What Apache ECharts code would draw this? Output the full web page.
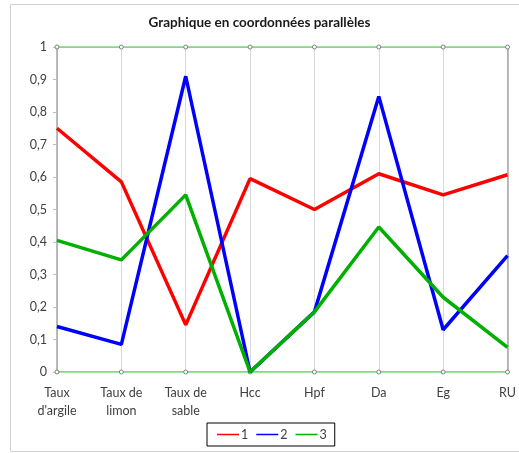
<!DOCTYPE html>
<html>
<head>
<meta charset="utf-8">
<script src="https://cdn.jsdelivr.net/npm/echarts@6/dist/echarts.min.js"></script>
<style>
  html, body { margin: 0; padding: 0; background: #fff; }
  #main { width: 519px; height: 453px; }
</style>
</head>
<body>
<div id="main"></div>
<script>
// categories (axes of the parallel plot)
var categories = ['Taux\nd\'argile', 'Taux de\nlimon', 'Taux de\nsable', 'Hcc', 'Hpf', 'Da', 'Eg', 'RU'];

// normalised values
var serie1 = [0.75, 0.585, 0.145, 0.595, 0.50, 0.61, 0.545, 0.607];
var serie2 = [0.14, 0.085, 0.91, 0.0, 0.185, 0.848, 0.13, 0.358];
var serie3 = [0.405, 0.345, 0.545, 0.0, 0.185, 0.446, 0.23, 0.076];

// frame lines at min and max
var ligneMax = [1, 1, 1, 1, 1, 1, 1, 1];
var ligneMin = [0, 0, 0, 0, 0, 0, 0, 0];

var myChart = echarts.init(document.getElementById('main'));

var police = 'Lato, "Open Sans", sans-serif';

function frame(name, data) {
    return {
        name: name,
        type: 'line',
        data: data,
        symbol: 'circle',
        symbolSize: 4,
        itemStyle: { color: '#fff', borderColor: '#808080', borderWidth: 1 },
        lineStyle: { color: '#5ccc5c', width: 1.5 },
        z: 1,
        silent: true
    };
}

function courbe(name, data, color) {
    return {
        name: name,
        type: 'line',
        data: data,
        symbol: 'none',
        itemStyle: { color: color },
        lineStyle: { color: color, width: 3.5 },
        z: 3
    };
}

var option = {
    backgroundColor: '#fff',
    animation: false,
    title: {
        text: 'Graphique en coordonnées parallèles',
        left: 'center',
        top: 11,
        textStyle: { fontFamily: police, fontSize: 13.5, fontWeight: 'bold', color: '#1a1a1a' }
    },
    graphic: [{
        type: 'rect',
        shape: { x: 10.5, y: 4.5, width: 520, height: 447 },
        style: { fill: null, stroke: '#d0d0d0', lineWidth: 1 },
        silent: true
    }],
    legend: {
        data: ['1', '2', '3'],
        icon: 'rect',
        left: 207,
        top: 423,
        borderColor: '#000',
        borderWidth: 1,
        padding: [5, 8, 5, 10],
        itemGap: 8,
        itemWidth: 22,
        itemHeight: 1.5,
        textStyle: { fontFamily: police, fontSize: 12.5, color: '#404040', padding: [0, 0, 0, -3] }
    },
    grid: { left: 57, right: 7, top: 47, bottom: 81 },
    xAxis: {
        type: 'category',
        data: categories,
        boundaryGap: false,
        axisLine: { show: false },
        axisTick: { show: false },
        splitLine: { show: true, lineStyle: { color: '#d9d9d9', width: 1 } },
        axisLabel: {
            fontFamily: police, fontSize: 12.5, color: '#404040',
            margin: 12, lineHeight: 18, interval: 0
        }
    },
    yAxis: [{
        type: 'value',
        min: 0,
        max: 1,
        interval: 0.1,
        axisLine: { show: true, lineStyle: { color: '#a6a6a6', width: 1.5 } },
        axisTick: { show: true, length: 4, lineStyle: { color: '#bfbfbf' } },
        splitLine: { show: false },
        axisLabel: {
            fontFamily: police, fontSize: 12.5, color: '#404040', margin: 10,
            formatter: function (v) { return String(Math.round(v * 10) / 10).replace('.', ','); }
        }
    }, {
        type: 'value',
        position: 'right',
        min: 0,
        max: 1,
        interval: 0.1,
        axisLine: { show: true, lineStyle: { color: '#a6a6a6', width: 1.5 } },
        axisTick: { show: false },
        axisLabel: { show: false },
        splitLine: { show: false }
    }],
    series: [
        frame('max', ligneMax),
        frame('min', ligneMin),
        courbe('1', serie1, '#ff0000'),
        courbe('2', serie2, '#0000ff'),
        courbe('3', serie3, '#00b000')
    ]
};
myChart.setOption(option);
</script>
</body>
</html>
